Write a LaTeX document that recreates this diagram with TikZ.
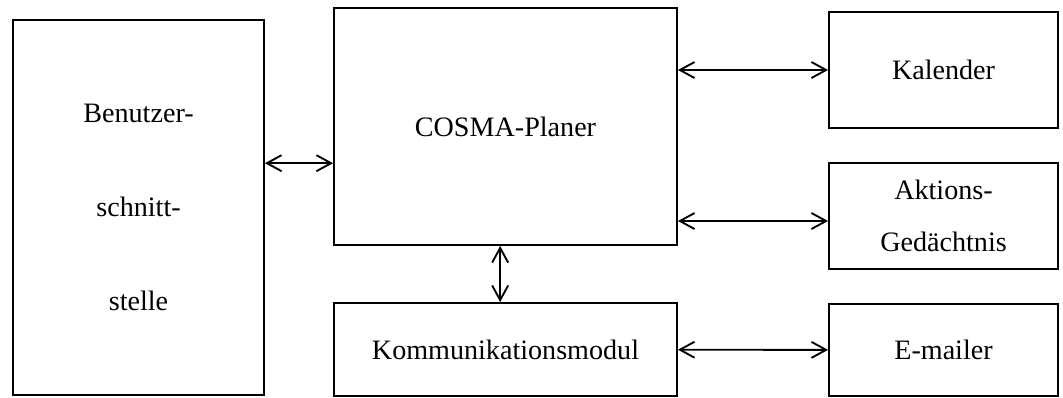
\documentclass[tikz,border=0pt]{standalone}
\usepackage{fontspec}
\setmainfont{Liberation Serif}
\usepackage{tikz}
\usetikzlibrary{positioning,calc,arrows.meta}

\begin{document}
\begin{tikzpicture}[
    x=0.015cm, y=-0.015cm,
    every node/.style={font=\fontsize{12}{14}\selectfont},
    box/.style={rectangle, draw, line width=0.8pt, align=center, inner sep=0pt},
    bigbox/.style={box, minimum width=5.145cm},
    sidebox/.style={box, minimum width=3.435cm},
    arrow/.style={{Straight Barb[length=2.2mm,width=2.4mm]}-{Straight Barb[length=2.2mm,width=2.4mm]}, line width=0.8pt}
]
\useasboundingbox (0,0) rectangle (1063,397);

% ============ LEFT: USER INTERFACE ============
\node[box, minimum width=3.765cm, minimum height=5.625cm,
      font=\fontsize{12}{40}\selectfont] (ui) at (138.5,207.5)
      {Benutzer-\\schnitt-\\stelle};

% ============ MIDDLE: PLANNER AND COMMUNICATION ============
\node[bigbox, minimum height=3.555cm] (planer) at (505.5,126.5) {COSMA-Planer};
\node[bigbox, minimum height=1.395cm] (komm) at (505.5,349.5) {Kommunikationsmodul};

% ============ RIGHT: COMPONENTS ============
\node[sidebox, minimum height=1.74cm] (kal) at (943.5,70) {Kalender};
\node[sidebox, minimum height=1.59cm,
      font=\fontsize{12}{22}\selectfont] (akt) at (943.5,216) {Aktions-\\Gedächtnis};
\node[sidebox, minimum height=1.38cm] (mail) at (943.5,350) {E-mailer};

% Arrows
\coordinate (uiarr) at ([yshift=-0.55cm]planer.west);
\draw[arrow] (ui.east |- uiarr) -- (uiarr);
\draw[arrow] (planer.east |- kal.west) -- (kal.west);
\draw[arrow] ([yshift=-0.075cm]planer.east |- akt.west) -- ([yshift=-0.075cm]akt.west);
\draw[arrow] ([xshift=-0.08cm]planer.south) -- ([xshift=-0.08cm]komm.north);
\draw[arrow] (komm) -- (mail);

\end{tikzpicture}
\end{document}
